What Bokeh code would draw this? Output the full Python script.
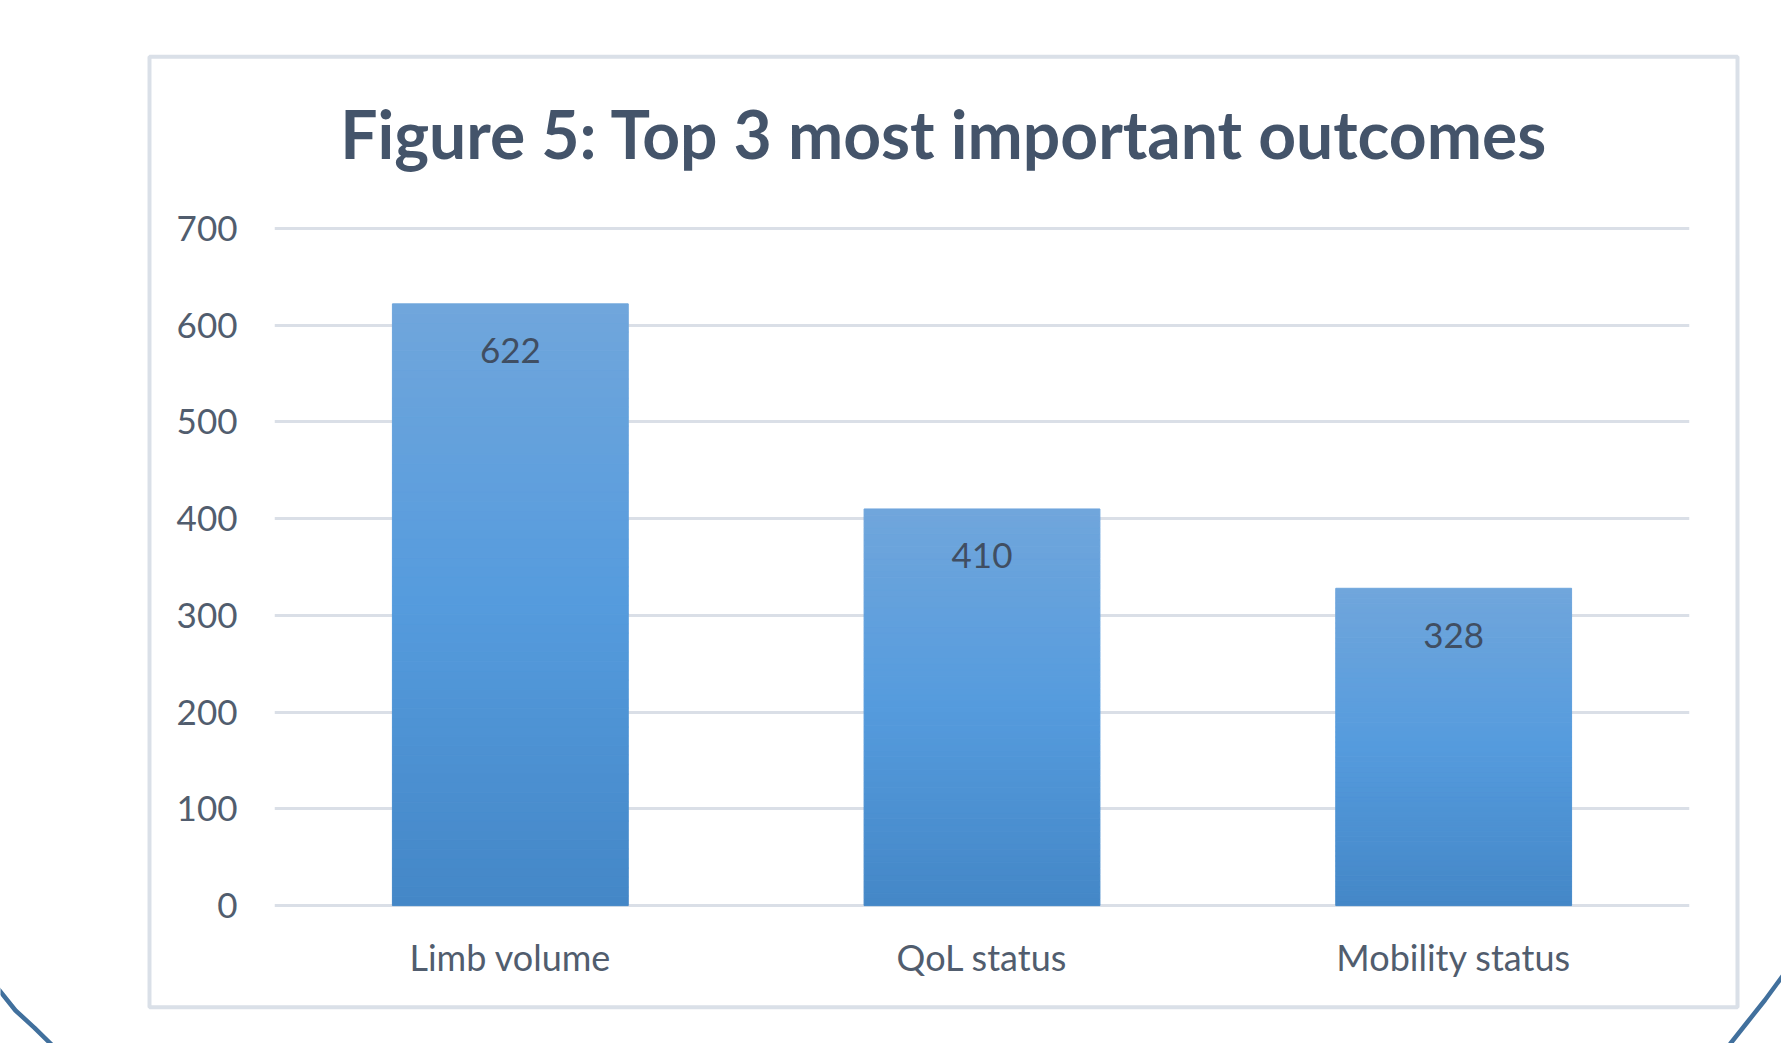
from bokeh.plotting import figure
from bokeh.models import Range1d, Label, FixedTicker, ColumnDataSource, GridBox
from bokeh.core.properties import value
from bokeh.embed import file_html
from bokeh.resources import INLINE

# ---- data ----
categories = ["Limb volume", "QoL status", "Mobility status"]
counts = [622, 410, 328]
y_ticks = [0, 100, 200, 300, 400, 500, 600, 700]
title_text = "Figure 5: Top 3 most important outcomes"

# ---- style ----
W, H = 1781, 1043
FONT = "Lato"
AXIS_TXT = "#515d6e"
TITLE_TXT = "#44546a"
GRID = "#dadfe7"
grad_stops = [(0.0, (0x44, 0x87, 0xc7)), (0.5, (0x55, 0x9b, 0xdd)), (1.0, (0x70, 0xa6, 0xdc))]


def grad_color(t):
    for (t0, c0), (t1, c1) in zip(grad_stops[:-1], grad_stops[1:]):
        if t0 <= t <= t1:
            f = (t - t0) / (t1 - t0)
            r, g, b = (round(a + (b_ - a) * f) for a, b_ in zip(c0, c1))
            return "#%02x%02x%02x" % (r, g, b)
    return "#%02x%02x%02x" % grad_stops[-1][1]


# ---------- background layer: chart frame, title, slide outline ----------
bg = figure(width=W, height=H, x_range=Range1d(0, W), y_range=Range1d(H, 0),
            x_axis_type=None, y_axis_type=None, output_backend="svg",
            toolbar_location=None, min_border=0)
bg.grid.visible = False
bg.outline_line_color = None
bg.background_fill_color = "white"
bg.border_fill_color = "white"

bg.quad(left=[149], right=[1737], top=[56.3], bottom=[1006.7],
        fill_alpha=0, line_color="#dae0e8", line_width=4)
bg.line(x=[-6, 15, 34, 56], y=[983.6, 1010, 1027.3, 1049],
        line_color="#41709d", line_width=4.5)
bg.line(x=[1787, 1781, 1764.5, 1747, 1730, 1725], y=[969, 977, 999.5, 1021.5, 1043, 1050],
        line_color="#41709d", line_width=4.5)
bg.add_layout(Label(x=943.7, y=133, text=title_text,
                    text_align="center", text_baseline="alphabetic",
                    text_font=FONT, text_font_style="bold", text_font_size="66px",
                    text_color=TITLE_TXT))

# ---------- chart layer ----------
N = 64
xs, bottoms, tops, colors = [], [], [], []
for cat, v in zip(categories, counts):
    for j in range(N):
        xs.append(cat)
        bottoms.append(v * j / N)
        tops.append(v * (j + 1) / N)
        colors.append(grad_color((j + 0.5) / N))
bar_src = ColumnDataSource(dict(x=xs, bottom=bottoms, top=tops, color=colors))

p = figure(width=W, height=H, x_range=categories, y_range=Range1d(-3, 703),
           output_backend="svg", toolbar_location=None,
           min_border_left=274, min_border_right=92,
           min_border_top=225, min_border_bottom=135)
p.background_fill_alpha = 0
p.border_fill_alpha = 0
p.outline_line_color = None

p.vbar(x="x", bottom="bottom", top="top", width=0.5, source=bar_src,
       fill_color="color", line_color="color", line_width=1)

p.text(x=categories, y=counts, text=[str(c) for c in counts],
       text_align="center", text_baseline="middle", y_offset=47,
       text_font=value(FONT), text_font_size="35px", text_color="#404e62")

p.yaxis.ticker = FixedTicker(ticks=y_ticks)
for ax in (p.xaxis[0], p.yaxis[0]):
    ax.axis_line_color = None
    ax.major_tick_line_color = None
    ax.minor_tick_line_color = None
    ax.major_tick_in = 0
    ax.major_tick_out = 0
    ax.minor_tick_in = 0
    ax.minor_tick_out = 0
    ax.major_label_text_font = FONT
    ax.major_label_text_color = AXIS_TXT
p.yaxis.major_label_text_font_size = "35px"
p.xaxis.major_label_text_font_size = "36px"
p.yaxis.major_label_standoff = 37
p.xaxis.major_label_standoff = 26

p.xgrid.grid_line_color = None
p.ygrid.grid_line_color = GRID
p.ygrid.grid_line_width = 3

# the two layers share one grid cell; keep their frames independent
for fig in (bg, p):
    if hasattr(fig, "frame_align"):
        fig.frame_align = False

layout = GridBox(children=[(bg, 0, 0), (p, 0, 0)])

open("out.html", "w").write(file_html(layout, INLINE))
